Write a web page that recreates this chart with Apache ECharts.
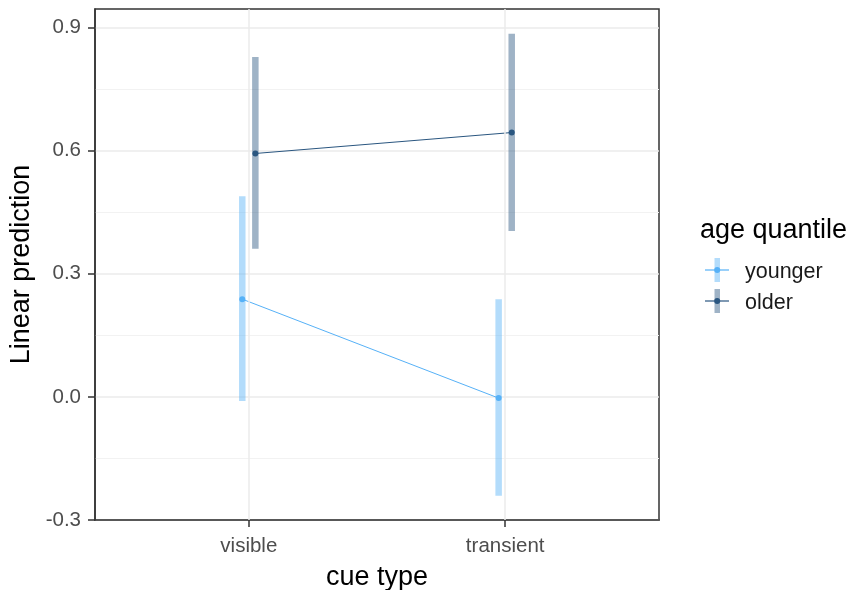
<!DOCTYPE html>
<html>
<head>
<meta charset="utf-8">
<script src="https://cdn.jsdelivr.net/npm/echarts@6/dist/echarts.min.js"></script>
<style>
  html, body { margin: 0; padding: 0; background: #fff; }
  #chart { width: 851px; height: 590px; }
</style>
</head>
<body>
<div id="chart"></div>
<script>
// Predicted values with 95% intervals by cue type and age quantile
const cueTypes = ['visible', 'transient'];
const groups = ['younger', 'older'];
const youngerEstimate = [0.238, -0.003];
const youngerLower = [-0.010, -0.241];
const youngerUpper = [0.489, 0.238];
const olderEstimate = [0.593, 0.644];
const olderLower = [0.361, 0.404];
const olderUpper = [0.828, 0.885];
const yTicks = [-0.3, 0.0, 0.3, 0.6, 0.9];

const groupColors = ['#56b1f7', '#2a5680'];
const FONT = '"Liberation Sans", Arial, sans-serif';
const DODGE = 0.0255;          // half of the dodge width, in category units
const catPos = cueTypes.map((c, i) => i + 1);

const groupData = [
  { est: youngerEstimate, lo: youngerLower, hi: youngerUpper, off: -DODGE },
  { est: olderEstimate, lo: olderLower, hi: olderUpper, off: DODGE }
];

const series = [];

// vertical major gridlines at each category
series.push({
  type: 'line',
  data: [],
  silent: true,
  z: 1,
  markLine: {
    silent: true,
    symbol: ['none', 'none'],
    label: { show: false },
    lineStyle: { color: '#ebebeb', width: 1.5, type: 'solid' },
    animation: false,
    data: catPos.map(p => ({ xAxis: p }))
  }
});

groups.forEach((g, gi) => {
  const d = groupData[gi];
  const color = groupColors[gi];
  // interval bars
  series.push({
    type: 'custom',
    name: g + ' interval',
    z: 2,
    data: catPos.map((p, i) => [p + d.off, d.lo[i], d.hi[i]]),
    encode: { x: 0, y: [1, 2] },
    renderItem: function (params, api) {
      const x = api.value(0);
      const top = api.coord([x, api.value(2)]);
      const bot = api.coord([x, api.value(1)]);
      const w = 6.5;
      return {
        type: 'rect',
        shape: { x: top[0] - w / 2, y: top[1], width: w, height: bot[1] - top[1] },
        style: { fill: color, opacity: 0.45 }
      };
    }
  });
  // estimates joined by a line
  series.push({
    type: 'line',
    name: g,
    z: 3,
    data: catPos.map((p, i) => [p + d.off, d.est[i]]),
    symbol: 'circle',
    symbolSize: 6,
    showSymbol: true,
    itemStyle: { color: color },
    lineStyle: { color: color, width: 1 }
  });
});

// legend drawn as graphics
const legendItems = [];
legendItems.push({
  type: 'text',
  left: 700, top: 217,
  style: { text: 'age quantile', font: '27px ' + FONT, fill: '#000' }
});
groups.forEach((g, gi) => {
  const cy = 270 + 31 * gi;
  const color = groupColors[gi];
  legendItems.push({
    type: 'rect',
    shape: { x: 714.5, y: cy - 12, width: 5.5, height: 24 },
    style: { fill: color, opacity: 0.45 }
  });
  legendItems.push({
    type: 'line',
    shape: { x1: 705, y1: cy, x2: 729, y2: cy },
    style: { stroke: color, lineWidth: 1.2 }
  });
  legendItems.push({
    type: 'circle',
    shape: { cx: 717.2, cy: cy, r: 3 },
    style: { fill: color }
  });
  legendItems.push({
    type: 'text',
    x: 745, y: cy + 2,
    style: { text: g, font: '21.5px ' + FONT, fill: '#1a1a1a', verticalAlign: 'middle' }
  });
});

const chart = echarts.init(document.getElementById('chart'), null, { renderer: 'canvas' });
chart.setOption({
  animation: false,
  backgroundColor: '#fff',
  textStyle: { fontFamily: FONT },
  grid: {
    left: 95, top: 9, right: 192, bottom: 70,
    containLabel: false,
    outerBoundsMode: 'none',
    show: true, borderColor: '#333', borderWidth: 1.5, backgroundColor: '#fff'
  },
  xAxis: {
    type: 'value',
    min: 0.4, max: 2.6,
    name: 'cue type',
    nameLocation: 'middle',
    nameGap: 44,
    nameTextStyle: { fontSize: 27, color: '#000', fontFamily: FONT },
    axisLine: { show: true, onZero: false, lineStyle: { color: '#333', width: 1.5 } },
    axisTick: { show: true, customValues: catPos, length: 7, lineStyle: { color: '#333', width: 1.5 } },
    axisLabel: {
      customValues: catPos,
      margin: 16,
      fontSize: 20.5,
      color: '#4d4d4d',
      fontFamily: FONT,
      formatter: v => cueTypes[Math.round(v) - 1]
    },
    splitLine: { show: false }
  },
  yAxis: {
    type: 'value',
    min: -0.3, max: 0.945,
    interval: 0.3,
    name: 'Linear prediction',
    nameLocation: 'middle',
    nameGap: 56,
    nameTextStyle: { fontSize: 27, color: '#000', fontFamily: FONT },
    axisLine: { show: true, onZero: false, lineStyle: { color: '#333', width: 1.5 } },
    axisTick: { show: true, customValues: yTicks, length: 7, lineStyle: { color: '#333', width: 1.5 } },
    axisLabel: {
      customValues: yTicks,
      margin: 14,
      fontSize: 20.5,
      color: '#4d4d4d',
      fontFamily: FONT,
      formatter: v => v.toFixed(1)
    },
    splitLine: { show: true, lineStyle: { color: '#ebebeb', width: 1.5 } },
    minorTick: { show: false, splitNumber: 2 },
    minorSplitLine: { show: true, lineStyle: { color: '#f2f2f2', width: 1 } }
  },
  series: series,
  graphic: legendItems
});
</script>
</body>
</html>
